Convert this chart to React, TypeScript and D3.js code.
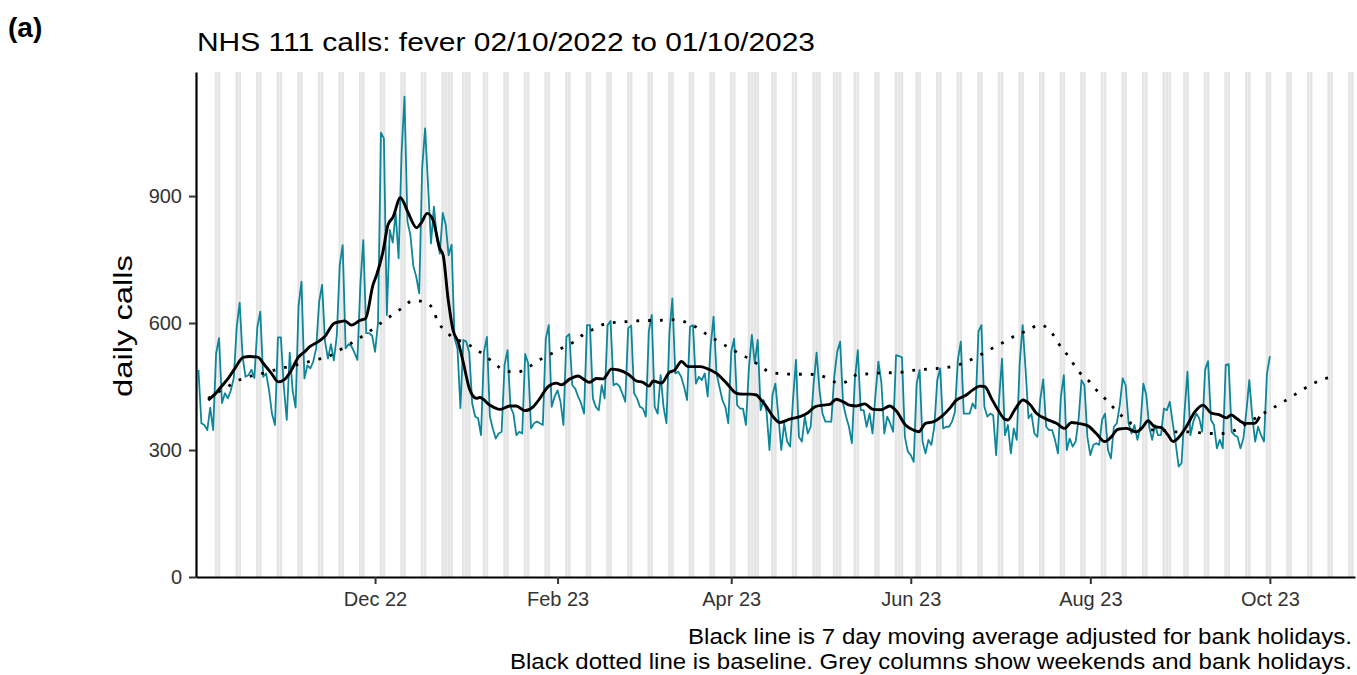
import { useEffect, useRef } from "react";
import * as d3 from "d3";

// daily NHS 111 fever calls, one value per day from 02/10/2022 to 01/10/2023
const firstDay = Date.UTC(2022, 9, 2);
const dailyCalls = [
  489, 363, 359, 347, 400, 347, 528, 564, 411, 434, 422, 441, 470, 591,
  648, 520, 473, 477, 490, 470, 590, 627, 473, 481, 440, 385, 359, 566,
  566, 450, 371, 530, 440, 400, 640, 698, 469, 500, 493, 509, 540, 650,
  690, 556, 516, 550, 512, 570, 737, 784, 540, 550, 545, 530, 513, 690,
  796, 576, 576, 570, 532, 600, 1050, 1036, 619, 820, 790, 860, 753, 1000,
  1135, 840, 808, 735, 709, 670, 965, 1060, 926, 788, 875, 800, 764, 860,
  832, 760, 785, 564, 540, 399, 560, 556, 530, 410, 379, 375, 335, 532,
  567, 379, 351, 327, 339, 343, 501, 536, 402, 386, 335, 343, 339, 527,
  505, 351, 363, 367, 363, 359, 563, 595, 402, 426, 441, 414, 359, 567,
  574, 453, 445, 426, 410, 386, 595, 595, 422, 402, 394, 453, 422, 595,
  605, 453, 457, 451, 434, 414, 588, 594, 434, 422, 402, 398, 379, 580,
  619, 402, 386, 477, 402, 363, 576, 658, 481, 485, 473, 449, 418, 591,
  595, 457, 473, 465, 481, 426, 544, 615, 481, 449, 418, 402, 363, 532,
  563, 406, 398, 398, 359, 493, 572, 505, 560, 394, 418, 390, 300, 430,
  457, 382, 300, 363, 320, 308, 420, 513, 331, 320, 379, 339, 355, 457,
  530, 441, 386, 367, 367, 367, 473, 532, 556, 410, 379, 355, 316, 465,
  536, 394, 394, 355, 386, 339, 430, 509, 460, 339, 379, 363, 343, 524,
  522, 519, 331, 296, 288, 272, 457, 489, 320, 292, 324, 312, 355, 465,
  493, 351, 355, 355, 367, 390, 513, 556, 386, 386, 386, 410, 398, 580,
  595, 402, 379, 386, 382, 288, 420, 516, 335, 359, 292, 351, 324, 505,
  595, 490, 375, 385, 339, 331, 420, 467, 355, 347, 347, 324, 292, 426,
  477, 300, 327, 308, 320, 371, 465, 453, 331, 288, 312, 316, 312, 371,
  386, 300, 280, 355, 363, 406, 469, 453, 363, 339, 359, 324, 355, 457,
  430, 355, 324, 359, 335, 335, 398, 394, 414, 363, 316, 261, 269, 390,
  485, 335, 367, 386, 375, 343, 490, 510, 371, 359, 304, 324, 304, 501,
  503, 343, 335, 331, 304, 327, 390, 465, 380, 320, 355, 335, 320, 480,
  522,
];

// 7 day moving average, read at day offsets from 02/10/2022
const maDays = [
  3.3, 5.6, 7.8, 10.1, 12.4, 15.2, 17.5, 20.3, 22, 24.8, 27.1, 29.3, 31.6,
  33.9, 36.1, 37.8, 40.7, 42.9, 46, 48, 49.7, 52, 54.8, 56.8, 59.3, 60.5,
  62.7, 64.4, 66.1, 68.6, 71.2, 74.1, 75.8, 77.7, 79.7, 82, 83.1, 84.8, 86.5,
  88.2, 89.9, 92.2, 94.5, 95.6, 99, 102.4, 105.8, 108, 110.9, 113.7, 116,
  118.8, 121.6, 123.3, 126.2, 129, 131.3, 132.9, 135.2, 137.5, 140.3, 142.8,
  146, 148.8, 151, 153.1, 154.5, 157.3, 159.9, 161.8, 164.1, 166.3, 170.4,
  172.6, 176, 179.4, 182.8, 185, 187.2, 189.6, 190.7, 193, 195.2, 197.5,
  200.9, 204.3, 207.1, 209.4, 212.2, 214.5, 216.7, 219, 221.2, 223.5, 226.3,
  229.2, 232, 234.8, 237.1, 240.2, 243, 244.7, 247, 249.8, 252.4, 255.3,
  257.5, 260.4, 263.1, 265.4, 267.1, 269.4, 271.6, 273.9, 275, 277.3, 280.1,
  282.4, 284.7, 288.1, 291.5, 294.3, 296.6, 298.8, 302.2, 305, 307.9, 310.1,
  312.4, 315.3, 318.6, 320.9, 322.6, 324.9, 327.1, 329.4, 331.1, 332.8,
  335.6, 338.5, 341.3, 344.1, 346.9, 349.2, 350.9, 352.6, 355.4, 358.8,
  360.5,
];
const maCalls = [
  418, 432, 450, 469, 493, 519, 521, 519, 505, 481, 461, 467, 489, 519, 532,
  544, 556, 568, 599, 603, 605, 595, 606, 611, 690, 713, 769, 832, 850, 896,
  861, 825, 838, 859, 843, 776, 761, 658, 583, 556, 509, 442, 422, 424, 406,
  396, 404, 404, 393, 402, 422, 450, 458, 454, 468, 475, 465, 460, 469, 468,
  491, 489, 479, 463, 460, 451, 463, 458, 483, 489, 509, 497, 497, 493, 481,
  458, 434, 432, 432, 430, 422, 402, 379, 365, 373, 379, 388, 402, 406, 408,
  420, 414, 406, 404, 409, 396, 395, 404, 392, 359, 347, 343, 363, 367, 379,
  399, 418, 428, 442, 451, 450, 422, 395, 373, 371, 395, 418, 408, 387, 373,
  363, 351, 365, 363, 357, 339, 320, 331, 349, 351, 343, 355, 369, 355, 353,
  335, 320, 328, 355, 390, 406, 387, 383, 376, 383, 375, 363, 363, 379,
];

// baseline (dotted), read at day offsets from 02/10/2022
const baseDays = [
  3.3, 7, 10.7, 14.4, 18.6, 22.9, 27.1, 31.3, 35.6, 39.8, 43.9, 47.7, 51.4,
  55.1, 58.7, 62.2, 65.8, 69.3, 72.9, 77.1, 80.1, 81.1, 83.9, 87, 90.1, 93.8,
  97.3, 100.7, 104.1, 108.3, 112.2, 115.9, 119.7, 123.5, 127.4, 131, 134.7,
  138.6, 142.8, 147.2, 151.7, 156.1, 160.5, 164.6, 168.7, 172.3, 176, 179.7,
  183.5, 187.2, 190.4, 194.1, 198.4, 202.8, 207.1, 211.3, 214.5, 217.6,
  221.2, 224, 228.5, 232.9, 237.2, 241.4, 245.8, 250, 254.4, 258.6, 262.6,
  266.5, 270.4, 274.2, 278, 282, 285.5, 289.5, 291.8, 294.4, 296.9, 299.4,
  302.5, 305.4, 308.5, 311.4, 314.6, 318.1, 322.1, 326.6, 330.9, 335.1,
  339.5, 343.8, 348.1, 352.3, 356, 360, 363.7, 367.4, 371, 374.7, 378.5,
  382.4, 386.6,
];
const baseCalls = [
  422, 438, 453, 467, 476, 483, 491, 498, 505, 513, 520, 535, 550, 566, 583,
  601, 619, 636, 653, 649, 627, 605, 583, 562, 556, 540, 523, 504, 487, 484,
  496, 513, 527, 541, 555, 574, 587, 599, 602, 604, 606, 606, 608, 604, 592,
  575, 559, 544, 529, 515, 501, 484, 480, 479, 479, 476, 467, 457, 465, 479,
  480, 483, 482, 487, 490, 492, 495, 502, 514, 528, 543, 557, 572, 583, 596,
  581, 555, 532, 507, 483, 463, 439, 418, 396, 375, 357, 348, 347, 343, 343,
  341, 339, 339, 347, 362, 379, 394, 409, 424, 441, 456, 468, 473,
];

const bankHolidays = [
  "2022-12-26", "2022-12-27", "2023-01-02", "2023-04-07", "2023-04-10",
  "2023-05-01", "2023-05-08", "2023-05-29", "2023-08-28",
];
const monthTicks = [
  "2022-12-01", "2023-02-01", "2023-04-01", "2023-06-01", "2023-08-01", "2023-10-01",
];
const yTicks = [0, 300, 600, 900];

const DAY = 86400000;
const FONT = "'Liberation Sans', Arial, sans-serif";

export default function App() {
  const ref = useRef<SVGSVGElement | null>(null);

  useEffect(() => {
    const svg = d3.select(ref.current!);
    svg.selectAll("*").remove();

    const left = 196, right = 1355, top = 72, bottom = 577;
    const x = d3
      .scaleUtc()
      .domain([new Date(Date.UTC(2022, 9, 1, 4)), new Date(Date.UTC(2023, 9, 29, 22))])
      .range([left, right]);
    const y = d3.scaleLinear().domain([0, 1193]).range([bottom, top]);
    const dayDate = (d: number) => new Date(firstDay + d * DAY);

    // grey columns: weekends and bank holidays
    const bh = new Set(bankHolidays);
    const greyDays = d3
      .utcDays(new Date(Date.UTC(2022, 9, 3)), new Date(Date.UTC(2023, 9, 30)))
      .filter((d) => d.getUTCDay() === 0 || d.getUTCDay() === 6 || bh.has(d3.utcFormat("%Y-%m-%d")(d)));
    svg
      .append("g")
      .selectAll("rect")
      .data(greyDays)
      .join("rect")
      .attr("x", (d) => x(new Date(+d - 0.45 * DAY)))
      .attr("width", x(new Date(0.9 * DAY)) - x(new Date(0)))
      .attr("y", top)
      .attr("height", bottom - top)
      .attr("fill", "#e5e5e5");

    const daily = dailyCalls.map((v, i) => ({ date: dayDate(i), v }));
    svg
      .append("path")
      .datum(daily)
      .attr("fill", "none")
      .attr("stroke", "#0e869a")
      .attr("stroke-width", 1.8)
      .attr("stroke-linejoin", "round")
      .attr("d", d3.line<{ date: Date; v: number }>().x((d) => x(d.date)).y((d) => y(d.v)));

    const base = baseDays.map((d, i) => ({ date: dayDate(d), v: baseCalls[i] }));
    svg
      .append("path")
      .datum(base)
      .attr("fill", "none")
      .attr("stroke", "#000")
      .attr("stroke-width", 2.8)
      .attr("stroke-dasharray", "2.8 9")
      .attr("d", d3.line<{ date: Date; v: number }>().curve(d3.curveMonotoneX).x((d) => x(d.date)).y((d) => y(d.v)));

    const ma = maDays.map((d, i) => ({ date: dayDate(d), v: maCalls[i] }));
    svg
      .append("path")
      .datum(ma)
      .attr("fill", "none")
      .attr("stroke", "#000")
      .attr("stroke-width", 2.9)
      .attr("stroke-linejoin", "round")
      .attr("d", d3.line<{ date: Date; v: number }>().curve(d3.curveMonotoneX).x((d) => x(d.date)).y((d) => y(d.v)));

    // axes
    const yAxis = svg
      .append("g")
      .attr("transform", `translate(${left},0)`)
      .call(d3.axisLeft(y).tickValues(yTicks).tickSize(7).tickPadding(7).tickSizeOuter(0));
    const xAxis = svg
      .append("g")
      .attr("transform", `translate(0,${bottom})`)
      .call(
        d3
          .axisBottom(x)
          .tickValues(monthTicks.map((s) => new Date(s + "T00:00:00Z")))
          .tickFormat((d) => d3.utcFormat("%b %y")(d as Date))
          .tickSize(7)
          .tickPadding(8)
          .tickSizeOuter(0)
      );
    [yAxis, xAxis].forEach((a) => {
      a.select(".domain").attr("stroke", "#000").attr("stroke-width", 2.2);
      a.selectAll(".tick line").attr("stroke", "#333").attr("stroke-width", 2);
      a.selectAll(".tick text")
        .attr("fill", "#333")
        .style("font", `20px ${FONT}`);
    });

    svg
      .append("text")
      .attr("transform", `translate(132,326) rotate(-90)`)
      .attr("text-anchor", "middle")
      .attr("textLength", 142)
      .attr("lengthAdjust", "spacingAndGlyphs")
      .style("font", `26px ${FONT}`)
      .text("daily calls");

    svg
      .append("text")
      .attr("x", 8)
      .attr("y", 37)
      .style("font", `bold 28px ${FONT}`)
      .text("(a)");

    svg
      .append("text")
      .attr("x", 197)
      .attr("y", 51)
      .attr("textLength", 618)
      .attr("lengthAdjust", "spacingAndGlyphs")
      .style("font", `25px ${FONT}`)
      .text("NHS 111 calls: fever 02/10/2022 to 01/10/2023");

    const captions = [
      ["Black line is 7 day moving average adjusted for bank holidays.", 644, 664],
      ["Black dotted line is baseline. Grey columns show weekends and bank holidays.", 669, 842],
    ] as const;
    captions.forEach(([t, yy, len]) => {
      svg
        .append("text")
        .attr("x", 1352)
        .attr("y", yy)
        .attr("text-anchor", "end")
        .attr("textLength", len)
        .attr("lengthAdjust", "spacingAndGlyphs")
        .style("font", `22px ${FONT}`)
        .text(t);
    });
  }, []);

  return (
    <div style={{ position: "absolute", left: 0, top: 0 }}>
      <svg ref={ref} width={1357} height={675} style={{ display: "block", background: "#fff" }} />
    </div>
  );
}
